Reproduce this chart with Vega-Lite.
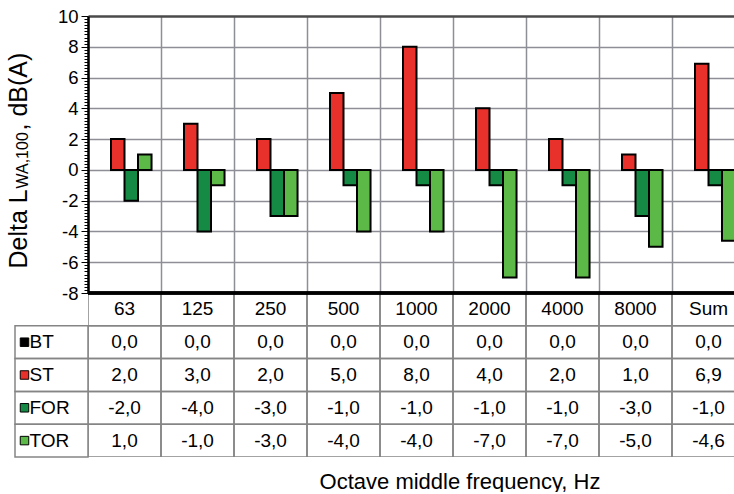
{
  "$schema": "https://vega.github.io/schema/vega-lite/v6.json",
  "padding": {"left": 6, "top": 7, "right": 0, "bottom": 0},
  "config": {
    "font": "Liberation Sans",
    "view": {"stroke": null},
    "locale": {"number": {"decimal": ",", "thousands": ".", "grouping": [3], "currency": ["", ""], "minus": "-"}}
  },
  "datasets": {
    "vals": [
      {"cat": "63", "series": "BT", "value": 0}, {"cat": "63", "series": "ST", "value": 2}, {"cat": "63", "series": "FOR", "value": -2}, {"cat": "63", "series": "TOR", "value": 1},
      {"cat": "125", "series": "BT", "value": 0}, {"cat": "125", "series": "ST", "value": 3}, {"cat": "125", "series": "FOR", "value": -4}, {"cat": "125", "series": "TOR", "value": -1},
      {"cat": "250", "series": "BT", "value": 0}, {"cat": "250", "series": "ST", "value": 2}, {"cat": "250", "series": "FOR", "value": -3}, {"cat": "250", "series": "TOR", "value": -3},
      {"cat": "500", "series": "BT", "value": 0}, {"cat": "500", "series": "ST", "value": 5}, {"cat": "500", "series": "FOR", "value": -1}, {"cat": "500", "series": "TOR", "value": -4},
      {"cat": "1000", "series": "BT", "value": 0}, {"cat": "1000", "series": "ST", "value": 8}, {"cat": "1000", "series": "FOR", "value": -1}, {"cat": "1000", "series": "TOR", "value": -4},
      {"cat": "2000", "series": "BT", "value": 0}, {"cat": "2000", "series": "ST", "value": 4}, {"cat": "2000", "series": "FOR", "value": -1}, {"cat": "2000", "series": "TOR", "value": -7},
      {"cat": "4000", "series": "BT", "value": 0}, {"cat": "4000", "series": "ST", "value": 2}, {"cat": "4000", "series": "FOR", "value": -1}, {"cat": "4000", "series": "TOR", "value": -7},
      {"cat": "8000", "series": "BT", "value": 0}, {"cat": "8000", "series": "ST", "value": 1}, {"cat": "8000", "series": "FOR", "value": -3}, {"cat": "8000", "series": "TOR", "value": -5},
      {"cat": "Sum", "series": "BT", "value": 0}, {"cat": "Sum", "series": "ST", "value": 6.9}, {"cat": "Sum", "series": "FOR", "value": -1}, {"cat": "Sum", "series": "TOR", "value": -4.6}
    ],
    "cats": [{"cat": "63"}, {"cat": "125"}, {"cat": "250"}, {"cat": "500"}, {"cat": "1000"}, {"cat": "2000"}, {"cat": "4000"}, {"cat": "8000"}, {"cat": "Sum"}],
    "series": [{"series": "BT"}, {"series": "ST"}, {"series": "FOR"}, {"series": "TOR"}]
  },
  "spacing": 0,
  "bounds": "flush",
  "vconcat": [
    {
      "width": 646.5,
      "height": 277,
      "data": {"name": "vals"},
      "resolve": {"axis": {"y": "independent"}},
      "layer": [
        {
          "transform": [{"filter": "datum.series !== 'BT'"}],
          "mark": {"type": "bar", "stroke": "black", "strokeWidth": 2, "clip": true},
          "encoding": {
            "x": {
              "field": "cat", "type": "nominal",
              "scale": {"domain": ["63", "125", "250", "500", "1000", "2000", "4000", "8000", "Sum"], "range": [0, 657], "paddingInner": 0, "paddingOuter": 0},
              "axis": {"orient": "bottom", "labels": false, "ticks": false, "domain": false, "title": null, "grid": true, "bandPosition": 0, "gridColor": "#8e8e96", "gridWidth": 1.5}
            },
            "xOffset": {"field": "series", "type": "nominal", "scale": {"domain": ["BT", "ST", "FOR", "TOR"], "paddingInner": 0, "paddingOuter": 0.7}},
            "y": {
              "field": "value", "type": "quantitative",
              "scale": {"domain": [-8, 10], "nice": false, "zero": false},
              "axis": {
                "orient": "left",
                "tickCount": 90,
                "labelOverlap": false,
                "labelExpr": "abs(datum.value % 2) < 0.001 ? toString(datum.value) : ''",
                "labelFontSize": 18.5,
                "labelColor": "black",
                "labelPadding": 3,
                "domainColor": "black",
                "domainWidth": 2.5,
                "tickColor": "black",
                "tickWidth": 1,
                "tickSize": {"condition": {"test": "abs(datum.value % 2) < 0.001", "value": 7}, "value": 4},
                "grid": true,
                "gridColor": {"condition": {"test": "datum.value === 10", "value": "#4a4a4a"}, "value": "#8e8e96"},
                "gridWidth": {"condition": {"test": "datum.value === 10", "value": 2.5}, "value": 1.5},
                "gridOpacity": {"condition": {"test": "abs(datum.value % 2) < 0.001 && datum.value > -8", "value": 1}, "value": 0},
                "title": "Delta L",
                "titleFontSize": 25,
                "titleFontWeight": "normal",
                "titleColor": "black",
                "titleAngle": -90,
                "titleAlign": "left",
                "titleBaseline": "alphabetic",
                "titleX": -62,
                "titleY": 252
              }
            },
            "color": {"field": "series", "type": "nominal", "scale": {"domain": ["BT", "ST", "FOR", "TOR"], "range": ["#000000", "#E8312A", "#148A45", "#5CB947"]}, "legend": null}
          }
        },
        {
          "transform": [{"filter": "false"}],
          "mark": "tick",
          "encoding": {
            "y": {"field": "value", "type": "quantitative", "axis": {"orient": "left", "labels": false, "ticks": false, "domain": false, "grid": false, "title": "WA,100", "titleFontSize": 16, "titleFontWeight": "normal", "titleColor": "black", "titleAngle": -90, "titleAlign": "left", "titleBaseline": "alphabetic", "titleX": -60.5, "titleY": 172}}
          }
        },
        {
          "transform": [{"filter": "false"}],
          "mark": "tick",
          "encoding": {
            "y": {"field": "value", "type": "quantitative", "axis": {"orient": "left", "labels": false, "ticks": false, "domain": false, "grid": false, "title": ", dB(A)", "titleFontSize": 25, "titleFontWeight": "normal", "titleColor": "black", "titleAngle": -90, "titleAlign": "left", "titleBaseline": "alphabetic", "titleX": -62, "titleY": 114}}
          }
        }
      ]
    },
    {
      "width": 646.5,
      "height": 164,
      "layer": [
        {
          "data": {"name": "vals"},
          "mark": {"type": "rect", "filled": false, "stroke": "#858585", "strokeWidth": 1.5, "clip": true},
          "encoding": {
            "x": {
              "field": "cat", "type": "nominal",
              "scale": {"domain": ["legend", "63", "125", "250", "500", "1000", "2000", "4000", "8000", "Sum"], "range": [-73, 657], "paddingInner": 0, "paddingOuter": 0},
              "axis": {"orient": "bottom", "labels": false, "ticks": false, "domain": false, "grid": false, "title": "Octave middle frequency, Hz", "titleFontSize": 22, "titleFontWeight": "normal", "titleColor": "black", "titleAlign": "center", "titleBaseline": "alphabetic", "titleX": 371.5, "titleY": 31}
            },
            "y": {"field": "series", "type": "nominal", "scale": {"domain": ["hdr", "BT", "ST", "FOR", "TOR"], "paddingInner": 0, "paddingOuter": 0}, "axis": null}
          }
        },
        {
          "data": {"name": "cats"},
          "mark": {"type": "rect", "filled": false, "stroke": "#858585", "strokeWidth": 1.5, "clip": true},
          "encoding": {
            "x": {"field": "cat", "type": "nominal"},
            "y": {"datum": "hdr", "type": "nominal"}
          }
        },
        {
          "data": {"name": "series"},
          "mark": {"type": "rect", "filled": false, "stroke": "#858585", "strokeWidth": 1.5},
          "encoding": {
            "x": {"datum": "legend", "type": "nominal"},
            "y": {"field": "series", "type": "nominal"}
          }
        },
        {
          "data": {"name": "series"},
          "mark": {"type": "point", "shape": "square", "size": 72, "filled": true, "opacity": 1, "stroke": "black", "strokeWidth": 1, "xOffset": 9.5},
          "encoding": {
            "x": {"datum": "legend", "type": "nominal", "bandPosition": 0},
            "y": {"field": "series", "type": "nominal"},
            "color": {"field": "series", "type": "nominal", "scale": {"domain": ["BT", "ST", "FOR", "TOR"], "range": ["#000000", "#E8312A", "#148A45", "#5CB947"]}, "legend": null}
          }
        },
        {
          "data": {"name": "series"},
          "mark": {"type": "text", "align": "left", "dx": 14.5, "fontSize": 19, "color": "black"},
          "encoding": {
            "x": {"datum": "legend", "type": "nominal", "bandPosition": 0},
            "y": {"field": "series", "type": "nominal"},
            "text": {"field": "series"}
          }
        },
        {
          "data": {"name": "cats"},
          "mark": {"type": "text", "fontSize": 19, "color": "black"},
          "encoding": {
            "x": {"field": "cat", "type": "nominal"},
            "y": {"datum": "hdr", "type": "nominal"},
            "text": {"field": "cat"}
          }
        },
        {
          "data": {"name": "vals"},
          "mark": {"type": "text", "fontSize": 19, "color": "black"},
          "encoding": {
            "x": {"field": "cat", "type": "nominal"},
            "y": {"field": "series", "type": "nominal"},
            "text": {"field": "value", "type": "quantitative", "format": ".1f"}
          }
        },
        {
          "data": {"name": "cats"},
          "mark": {"type": "rule", "color": "black", "strokeWidth": 2.5},
          "encoding": {
            "y": {"datum": "hdr", "type": "nominal", "bandPosition": 0}
          }
        }
      ]
    }
  ]
}
